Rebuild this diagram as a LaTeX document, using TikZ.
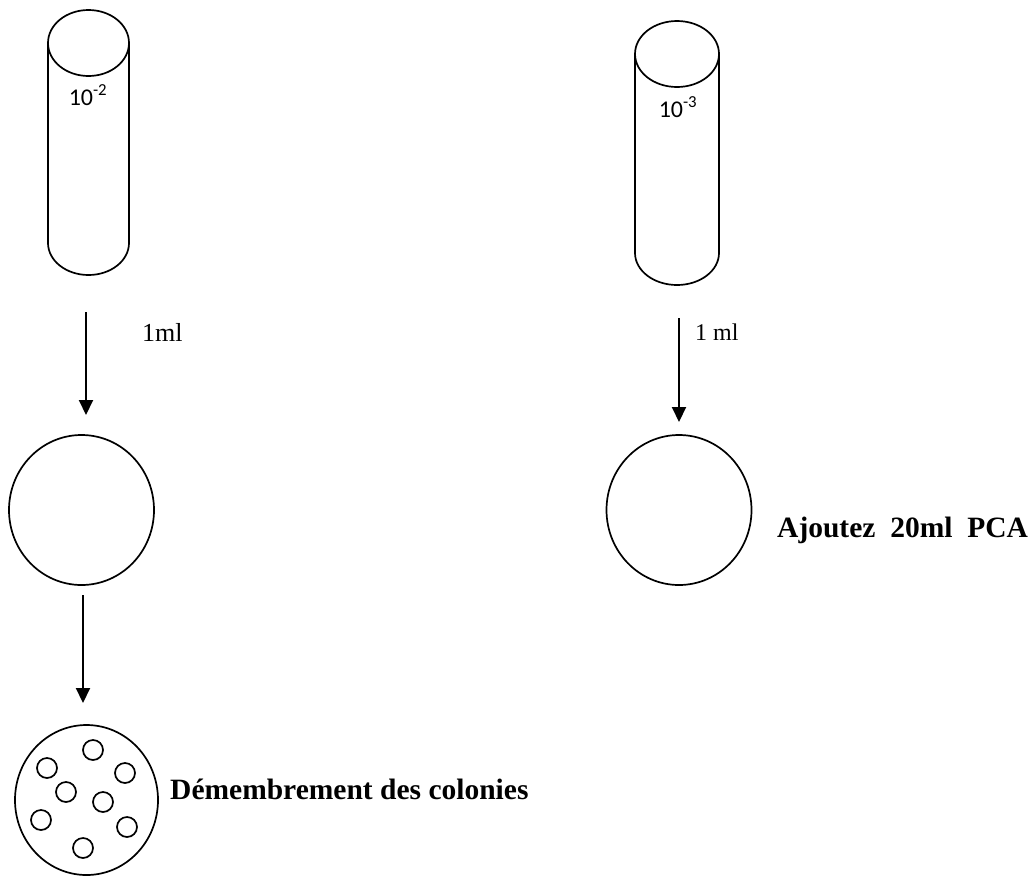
\documentclass[tikz,border=0pt]{standalone}
\usepackage{fontspec}
\setmainfont{Liberation Serif}
\newfontfamily\calib{Carlito}
\usetikzlibrary{arrows.meta,shapes.geometric}
\tikzset{
  shp/.style={draw, line width=1.7pt},
  plate/.style={shp, ellipse, inner sep=0pt, minimum width=145pt, minimum height=150pt},
  colony/.style={shp, circle, inner sep=0pt, minimum size=20pt},
  arr/.style={line width=2pt, -{Triangle[length=15pt,width=14pt]}},
  boldlbl/.style={anchor=base west, inner sep=0pt, font=\fontsize{29.5}{32}\selectfont\bfseries},
  lbl/.style={anchor=base west, inner sep=0pt, font=\fontsize{26}{30}\selectfont},
  tubelbl/.style={anchor=base, inner sep=0pt, font=\calib\fontsize{24}{28}\selectfont}
}
\begin{document}
\begin{tikzpicture}[x=1pt,y=-1pt]
\useasboundingbox (0,0) rectangle (1035,876);
% tube 1
\draw[shp] (48,43) -- (48,243) arc[start angle=180, end angle=0, x radius=40.5, y radius=32] -- (129,43);
\draw[shp] (88.5,43) ellipse[x radius=40.5, y radius=33];
\node[tubelbl] (t1) at (88,105) {10\textsuperscript{-2}};
% tube 2
\draw[shp] (635,54) -- (635,253) arc[start angle=180, end angle=0, x radius=42, y radius=32] -- (719,54);
\draw[shp] (677,54) ellipse[x radius=42, y radius=33];
\node[tubelbl] (t2) at (678,117) {10\textsuperscript{-3}};
% plates
\node[plate] (p1) at (81.5,510) {};
\node[plate] (p2) at (679,510) {};
\node[plate, minimum width=143pt] (p3) at (86.5,800) {};
% colonies
\foreach \x/\y [count=\i] in {93/750, 47/768, 125/773, 66/792, 103/802, 41/820, 127/827, 83/848}
  \node[colony] (c\i) at (\x,\y) {};
% arrows
\coordinate (a1s) at (86,312);
\coordinate (a1e) at (86,415);
\coordinate (a2s) at (83,595);
\coordinate (a2e) at (83,703);
\coordinate (a3s) at (679,318);
\coordinate (a3e) at (679,422);
\draw[arr] (a1s) -- (a1e);
\draw[arr] (a2s) -- (a2e);
\draw[arr] (a3s) -- (a3e);
% labels
\node[lbl] (l1) at (142,341) {1ml};
\node[lbl, font=\fontsize{24}{28}\selectfont] (l2) at (695,340) {1 ml};
\node[boldlbl] (l3) at (170,799) {Démembrement des colonies};
\node[boldlbl] (l4) at (777,537) {Ajoutez\ \ 20ml\ \ PCA};
\end{tikzpicture}
\end{document}
